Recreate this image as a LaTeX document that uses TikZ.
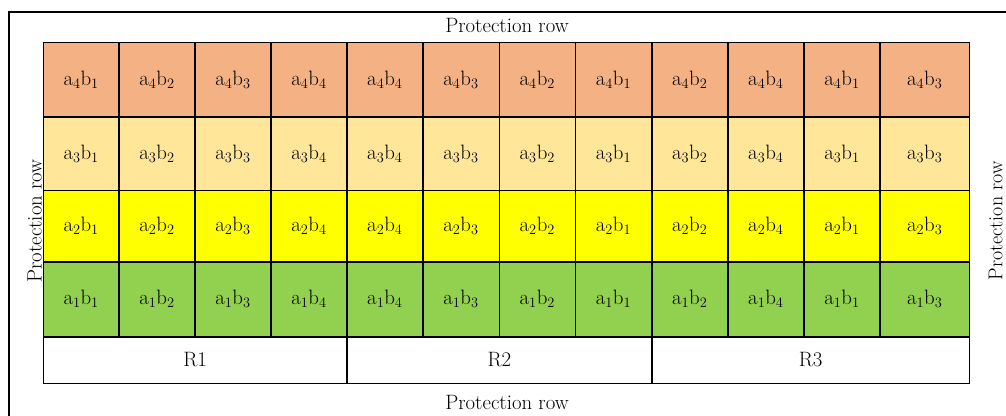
\documentclass[tikz,border=0pt]{standalone}
\definecolor{rowfour}{HTML}{F4B183}
\definecolor{rowthree}{HTML}{FFE699}
\definecolor{rowtwo}{HTML}{FFFF00}
\definecolor{rowone}{HTML}{92D050}
\begin{document}
\begin{tikzpicture}[x=1pt,y=-1pt,
  every node/.style={font=\fontsize{20.8}{25}\selectfont},
  cell/.style={rectangle, inner sep=0pt, outer sep=0pt},
  cellborder/.style={draw=black, line width=1.6pt},
  frameline/.style={draw=black, line width=1.8pt},
  label/.style={inner sep=0pt}]
\useasboundingbox (0,0) rectangle (1006,415);
% outer frame (cut by the picture edges)
\coordinate (fbl) at (8.7,416);
\coordinate (ftl) at (8.7,12.3);
\coordinate (ftr) at (1007,12.3);
\draw[frameline] (fbl) -- (ftl) -- (ftr);
% grid cells (fill first)
\foreach \r/\yt/\yb/\c in {4/42.3/116.7/rowfour, 3/116.7/190.3/rowthree, 2/190.3/261.7/rowtwo, 1/261.7/336.7/rowone}{
  \foreach \i/\xl/\xr/\b in {1/43.3/119/1, 2/119/195/2, 3/195/271/3, 4/271/347/4,
                             5/347/422.7/4, 6/422.7/499.3/3, 7/499.3/575.3/2, 8/575.3/651.7/1,
                             9/651.7/727.7/2, 10/727.7/804/4, 11/804/880/1, 12/880/969.5/3}{
    \node[cell, fill=\c, minimum width={\xr-\xl}, minimum height={\yb-\yt}]
      (c\r-\i) at ({(\xl+\xr)/2},{(\yt+\yb)/2}) {a$_{\r}$b$_{\b}$};
  }
}
% replicate labels
\node[cell, fill=white, minimum width={347-43.3}, minimum height={383.3-336.7}] (R1) at ({(43.3+347)/2},{(336.7+383.3)/2}) {R1};
\node[cell, fill=white, minimum width={651.7-347}, minimum height={383.3-336.7}] (R2) at ({(347+651.7)/2},{(336.7+383.3)/2}) {R2};
\node[cell, fill=white, minimum width={969.5-651.7}, minimum height={383.3-336.7}] (R3) at ({(651.7+969.5)/2},{(336.7+383.3)/2}) {R3};
% borders on top of all fills
\foreach \r in {1,2,3,4}{
  \foreach \i in {1,...,12}{
    \draw[cellborder] (c\r-\i.north west) rectangle (c\r-\i.south east);
  }
}
\foreach \n in {R1,R2,R3}{
  \draw[cellborder] (\n.north west) rectangle (\n.south east);
}
% protection rows
\node[label] (ptop) at (507,25.5) {Protection row};
\node[label] (pbot) at (507,402.5) {Protection row};
\node[label, rotate=90] (pleft) at (34.5,221) {Protection row};
\node[label, rotate=90, font=\fontsize{20}{24}\selectfont] (pright) at (995.5,221) {Protection row};
\end{tikzpicture}
\end{document}
